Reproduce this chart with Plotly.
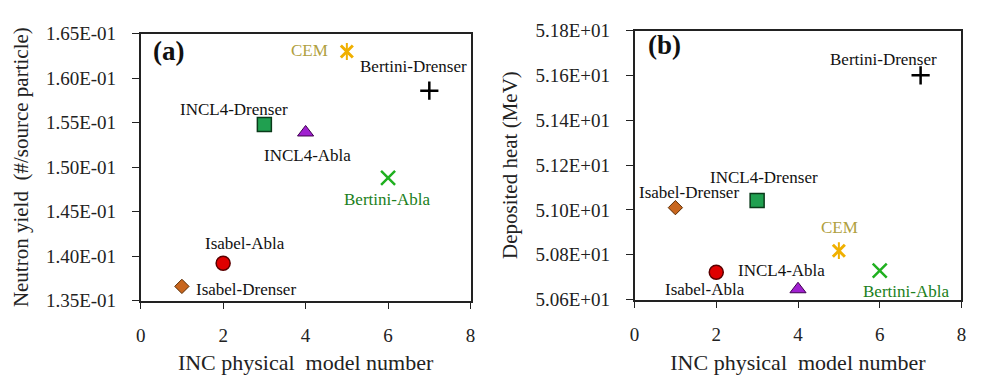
import plotly.graph_objects as go

# INC/de-excitation model combinations, numbered along the x axis
models = ["Isabel-Drenser", "Isabel-Abla", "INCL4-Drenser", "INCL4-Abla",
          "CEM", "Bertini-Abla", "Bertini-Drenser"]
model_number = [1, 2, 3, 4, 5, 6, 7]

# (a) neutron yield per source particle
neutron_yield = [0.1366, 0.1392, 0.1548, 0.1539, 0.1630, 0.1488, 0.1586]
# (b) deposited heat in MeV
deposited_heat = [51.01, 50.722, 51.042, 50.646, 50.818, 50.729, 51.60]

x_ticks = [0, 2, 4, 6, 8]
yield_ticks = [0.135, 0.140, 0.145, 0.150, 0.155, 0.160, 0.165]
yield_ticktext = ["1.35E-01", "1.40E-01", "1.45E-01", "1.50E-01",
                  "1.55E-01", "1.60E-01", "1.65E-01"]
heat_ticks = [50.6, 50.8, 51.0, 51.2, 51.4, 51.6, 51.8]
heat_ticktext = ["5.06E+01", "5.08E+01", "5.10E+01", "5.12E+01",
                 "5.14E+01", "5.16E+01", "5.18E+01"]

SERIF = "Liberation Serif, Times New Roman, serif"

# marker look for each model
marker_style = {
    "Isabel-Drenser": [dict(symbol="diamond", size=11, color="#c8661e",
                            line=dict(color="#5a2a00", width=1))],
    "Isabel-Abla": [dict(symbol="circle", size=14, color="#e00000",
                         line=dict(color="#5a0000", width=1.5))],
    "INCL4-Drenser": [dict(symbol="square", size=14, color="#20a050",
                           line=dict(color="#0a3a1a", width=1.5))],
    "INCL4-Abla": [dict(symbol="triangle-up", size=14, color="#a020d0",
                        line=dict(color="#400050", width=1))],
    "CEM": [dict(symbol="x-thin-open", size=12, color="#f0b000",
                 line=dict(color="#f0b000", width=3)),
            dict(symbol="line-ns-open", size=12, color="#f0b000",
                 line=dict(color="#f0b000", width=2))],
    "Bertini-Abla": [dict(symbol="x-thin-open", size=14, color="#20b020",
                          line=dict(color="#20b020", width=2.5))],
    "Bertini-Drenser": [dict(symbol="cross-thin-open", size=13, color="#000000",
                             line=dict(color="#000000", width=2.5))],
}

label_color = {"CEM": "#b0a040", "Bertini-Abla": "#208020"}

# label offsets in pixels (dx right, dy down) relative to each marker
offsets_a = {"Isabel-Drenser": (64, 3), "Isabel-Abla": (22, -20),
             "INCL4-Drenser": (-30, -15), "INCL4-Abla": (2, 23),
             "CEM": (-37, -1), "Bertini-Abla": (-1, 22),
             "Bertini-Drenser": (-16, -24)}
offsets_b = {"Isabel-Drenser": (14, -15), "Isabel-Abla": (-11, 17),
             "INCL4-Drenser": (7, -23), "INCL4-Abla": (-17, -19),
             "CEM": (1, -23), "Bertini-Abla": (26, 21),
             "Bertini-Drenser": (-37, -16)}

fig = go.Figure()
annotations = []

for values, xa, ya, offsets in [(neutron_yield, "x", "y", offsets_a),
                                (deposited_heat, "x2", "y2", offsets_b)]:
    for name, xv, yv in zip(models, model_number, values):
        for mk in marker_style[name]:
            fig.add_trace(go.Scatter(x=[xv], y=[yv], mode="markers",
                                     marker=mk, xaxis=xa, yaxis=ya,
                                     showlegend=False, hoverinfo="skip"))
        dx, dy = offsets[name]
        annotations.append(dict(
            x=xv, y=yv, xref=xa, yref=ya, text=name, showarrow=False,
            xanchor="center", yanchor="middle", xshift=dx, yshift=-dy,
            font=dict(family=SERIF, size=17,
                      color=label_color.get(name, "#111111"))))

annotations += [
    dict(x=0.15, y=0.885, xref="paper", yref="paper", text="<b>(a)</b>",
         showarrow=False, xanchor="left", yanchor="middle",
         font=dict(family=SERIF, size=27, color="#111111")),
    dict(x=0.657, y=0.9, xref="paper", yref="paper", text="<b>(b)</b>",
         showarrow=False, xanchor="left", yanchor="middle",
         font=dict(family=SERIF, size=27, color="#111111")),
]

axis_common = dict(showline=True, linecolor="#222222", linewidth=1.5,
                   mirror=True, ticks="outside", ticklen=7, tickwidth=1.2,
                   tickcolor="#222222", showgrid=False, zeroline=False,
                   tickfont=dict(family=SERIF, size=19, color="#222222"))

x_title_font = dict(family=SERIF, size=22, color="#222222")
y_title_font = dict(family=SERIF, size=21, color="#222222")

fig.update_layout(
    width=986, height=375,
    margin=dict(l=0, r=0, t=0, b=0),
    paper_bgcolor="white", plot_bgcolor="white",
    annotations=annotations,
    xaxis=dict(domain=[0.139, 0.477], range=[0, 8], tickvals=x_ticks,
               ticklabelstandoff=10,
               title=dict(text="INC physical  model number", standoff=10,
                          font=x_title_font),
               anchor="y", **axis_common),
    yaxis=dict(domain=[0.179, 0.933], range=[0.135, 0.165],
               tickvals=yield_ticks, ticktext=yield_ticktext,
               ticklabelstandoff=12,
               title=dict(text="Neutron yield  (#/source particle)", standoff=12,
                          font=y_title_font),
               anchor="x", **axis_common),
    xaxis2=dict(domain=[0.645, 0.980], range=[0, 8], tickvals=x_ticks,
                ticklabelstandoff=10,
                title=dict(text="INC physical  model number", standoff=10,
                           font=x_title_font),
                anchor="y2", **axis_common),
    yaxis2=dict(domain=[0.182, 0.942], range=[50.6, 51.8],
                tickvals=heat_ticks, ticktext=heat_ticktext,
                ticklabelstandoff=12,
                title=dict(text="Deposited heat (MeV)", standoff=12,
                           font=y_title_font),
                anchor="x2", **axis_common),
)

fig.write_html("out.html")
